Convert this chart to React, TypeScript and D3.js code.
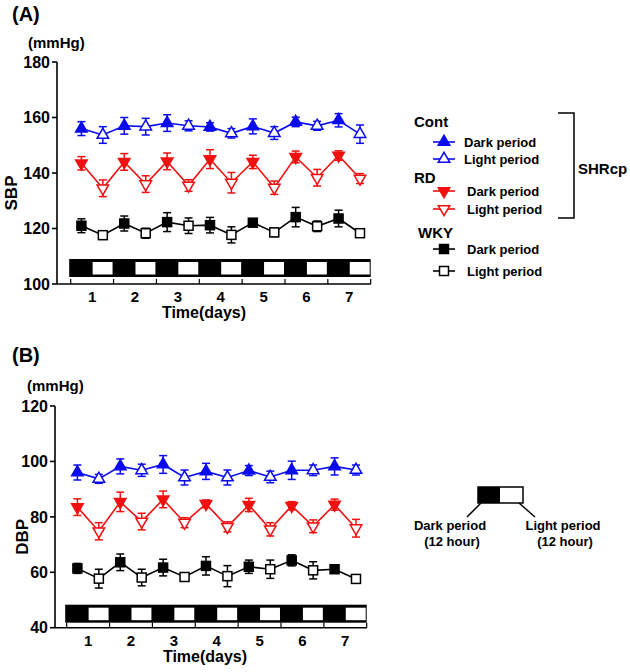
import React from 'react';
import * as d3 from 'd3';

// ---------- data ----------
const days = [1, 2, 3, 4, 5, 6, 7];
const sbpTicks = [100, 120, 140, 160, 180];
const dbpTicks = [40, 60, 80, 100, 120];

// SBP (A)
const sbpContDark = [156, 157, 158, 156.6, 156.8, 158.4, 159];
const sbpContDarkSE = [2.5, 3, 3, 1.5, 2.7, 1.7, 2.4];
const sbpContLight = [153.7, 156.7, 157, 154.3, 154.4, 157, 154];
const sbpContLightSE = [3, 3, 1.8, 1.7, 2.3, 1.6, 3.3];
const sbpRdDark = [143.5, 144, 144.2, 145, 144, 145.8, 146.3];
const sbpRdDarkSE = [2.4, 3, 3, 3.4, 2.4, 2.1, 1.7];
const sbpRdLight = [134.5, 136, 135.5, 136.5, 134.7, 138.3, 138];
const sbpRdLightSE = [3, 3, 2.1, 3.7, 2.4, 3, 1.8];
const sbpWkyDark = [121, 121.8, 122.3, 121.2, 122.1, 124.1, 123.6];
const sbpWkyDarkSE = [2.5, 2.7, 3.4, 2.8, 0.8, 3.5, 3];
const sbpWkyLight = [117.6, 118.3, 121, 117.7, 118.6, 120.8, 118.3];
const sbpWkyLightSE = [1.5, 1.8, 2.8, 2.9, 1.5, 1.9, 0.8];

// DBP (B)
const dbpContDark = [96, 98.2, 98.9, 96.4, 96.7, 96.8, 98.2];
const dbpContDarkSE = [2.7, 2.7, 3.2, 2.9, 1.8, 3.3, 3.1];
const dbpContLight = [93.7, 96.8, 94.2, 94.2, 94.4, 96.8, 96.9];
const dbpContLightSE = [1.6, 2.2, 2.7, 2.7, 2.1, 1.9, 1.8];
const dbpRdDark = [83.5, 85.4, 86.3, 84.7, 84.3, 84, 84.4];
const dbpRdDarkSE = [3, 3.5, 3, 1.4, 2.4, 1.5, 2];
const dbpRdLight = [74.8, 78.3, 77.9, 76.4, 75.5, 76.6, 75.9];
const dbpRdLightSE = [3.1, 3, 1.8, 1.8, 2.4, 2.3, 3.2];
const dbpWkyDark = [61.4, 63.6, 61.7, 62.3, 62, 64.3, 61.1];
const dbpWkyDarkSE = [1.8, 3, 3, 3.3, 2.4, 2, 1];
const dbpWkyLight = [57.7, 58.1, 58.3, 58.6, 61.1, 60.7, 57.6];
const dbpWkyLightSE = [3.4, 3, 1.3, 3.8, 3.3, 3.1, 0.8];

const groupNames = ['Cont', 'RD', 'WKY'];
const groupColors = ['#0a0af0', '#f01010', '#000000'];
const groupShapes = ['up', 'down', 'square'];
const periodNames = ['Dark period', 'Light period'];

const FONT = "'Liberation Sans', Arial, Helvetica, sans-serif";

type Series = { dark: number[]; darkSE: number[]; light: number[]; lightSE: number[] };

const sbpSeries: Series[] = [
  { dark: sbpContDark, darkSE: sbpContDarkSE, light: sbpContLight, lightSE: sbpContLightSE },
  { dark: sbpRdDark, darkSE: sbpRdDarkSE, light: sbpRdLight, lightSE: sbpRdLightSE },
  { dark: sbpWkyDark, darkSE: sbpWkyDarkSE, light: sbpWkyLight, lightSE: sbpWkyLightSE },
];
const dbpSeries: Series[] = [
  { dark: dbpContDark, darkSE: dbpContDarkSE, light: dbpContLight, lightSE: dbpContLightSE },
  { dark: dbpRdDark, darkSE: dbpRdDarkSE, light: dbpRdLight, lightSE: dbpRdLightSE },
  { dark: dbpWkyDark, darkSE: dbpWkyDarkSE, light: dbpWkyLight, lightSE: dbpWkyLightSE },
];

function Marker({ shape, x, y, color, filled }: { shape: string; x: number; y: number; color: string; filled: boolean }) {
  const fill = filled ? color : '#ffffff';
  if (shape === 'square') {
    return <rect x={x - 4.5} y={y - 4.5} width={9} height={9} fill={fill} stroke={color} strokeWidth={1.5} />;
  }
  const tri = d3.symbol().type(d3.symbolTriangle).size(58)() as string;
  return (
    <path
      d={tri}
      transform={`translate(${x},${y})${shape === 'down' ? ' rotate(180)' : ''}`}
      fill={fill}
      stroke={color}
      strokeWidth={1.5}
      strokeLinejoin="miter"
    />
  );
}

type PanelProps = {
  series: Series[];
  yDomain: [number, number];
  yTop: number;
  yBottom: number;
  axisX: number;
  xLeft: number;
  xRight: number;
  ticks: number[];
  yLabel: string;
  yLabelX: number;
  panelLabel: string;
  panelLabelY: number;
  unitY: number;
  unitX: number;
  timeLabelX: number;
  barGap: number;
};

function Panel(p: PanelProps) {
  const y = d3.scaleLinear().domain(p.yDomain).range([p.yBottom, p.yTop]);
  const x = d3.scaleLinear().domain([0, 7]).range([p.xLeft, p.xRight]);
  const xTicks = d3.range(0, 8);
  const barH = 18;
  const barBottom = p.yBottom - p.barGap;
  const barTop = barBottom - barH;
  const line = d3
    .line<{ t: number; v: number }>()
    .x((d) => x(d.t))
    .y((d) => y(d.v));

  return (
    <g>
      <text x={12} y={p.panelLabelY} fontFamily={FONT} fontWeight="bold" fontSize={20}>
        {p.panelLabel}
      </text>
      <text x={p.unitX} y={p.unitY} fontFamily={FONT} fontWeight="bold" fontSize={15}>
        (mmHg)
      </text>
      {/* y axis */}
      <line x1={p.axisX} x2={p.axisX} y1={p.yTop} y2={p.yBottom} stroke="#000" strokeWidth={1.6} />
      {p.ticks.map((t) => (
        <g key={t}>
          <line x1={p.axisX - 5} x2={p.axisX} y1={y(t)} y2={y(t)} stroke="#000" strokeWidth={1.6} />
          <text
            x={p.axisX - 7}
            y={y(t)}
            dy="0.36em"
            textAnchor="end"
            fontFamily={FONT}
            fontWeight="bold"
            fontSize={16}
          >
            {t}
          </text>
        </g>
      ))}
      <text
        transform={`translate(${p.yLabelX},${(p.yTop + p.yBottom) / 2 + 20}) rotate(-90)`}
        textAnchor="middle"
        fontFamily={FONT}
        fontWeight="bold"
        fontSize={17}
      >
        {p.yLabel}
      </text>
      {/* x axis */}
      <line x1={p.axisX} x2={x(7)} y1={p.yBottom} y2={p.yBottom} stroke="#000" strokeWidth={1.6} />
      {xTicks.map((t) => (
        <line key={t} x1={x(t)} x2={x(t)} y1={p.yBottom} y2={p.yBottom - 5} stroke="#000" strokeWidth={1.2} />
      ))}
      {days.map((d) => (
        <text
          key={d}
          x={x(d - 0.5)}
          y={p.yBottom + 18}
          textAnchor="middle"
          fontFamily={FONT}
          fontWeight="bold"
          fontSize={15}
        >
          {d}
        </text>
      ))}
      <text
        x={p.timeLabelX}
        y={p.yBottom + 34}
        textAnchor="middle"
        fontFamily={FONT}
        fontWeight="bold"
        fontSize={16}
      >
        Time(days)
      </text>
      {/* light/dark bar */}
      <rect x={x(0) - 1.5} y={barTop} width={x(7) - x(0) + 1.5} height={barH} fill="#000" />
      {days.map((d) => (
        <rect
          key={d}
          x={x(d - 0.5) + 0.5}
          y={barTop + 3}
          width={x(d) - x(d - 0.5) - 1.5}
          height={barH - 5.5}
          fill="#fff"
        />
      ))}
      {/* series */}
      {p.series.map((s, gi) => {
        const color = groupColors[gi];
        const pts: { t: number; v: number; se: number; filled: boolean }[] = [];
        days.forEach((d, i) => {
          pts.push({ t: d - 0.75, v: s.dark[i], se: s.darkSE[i], filled: true });
          pts.push({ t: d - 0.25, v: s.light[i], se: s.lightSE[i], filled: false });
        });
        return (
          <g key={gi}>
            <path d={line(pts) as string} fill="none" stroke={color} strokeWidth={1.6} />
            {pts.map((pt, i) => (
              <g key={i} stroke={color} strokeWidth={1.5}>
                <line x1={x(pt.t)} x2={x(pt.t)} y1={y(pt.v - pt.se)} y2={y(pt.v + pt.se)} />
                <line x1={x(pt.t) - 4} x2={x(pt.t) + 4} y1={y(pt.v + pt.se)} y2={y(pt.v + pt.se)} />
                <line x1={x(pt.t) - 4} x2={x(pt.t) + 4} y1={y(pt.v - pt.se)} y2={y(pt.v - pt.se)} />
              </g>
            ))}
            {pts.map((pt, i) => (
              <Marker key={i} shape={groupShapes[gi]} x={x(pt.t)} y={y(pt.v)} color={color} filled={pt.filled} />
            ))}
          </g>
        );
      })}
    </g>
  );
}

function Legend() {
  const headY = [127, 183, 238];
  const rowY = [
    [142, 159],
    [191, 209],
    [249, 271],
  ];
  const textX = [464, 467, 467];
  return (
    <g fontFamily={FONT} fontWeight="bold">
      {groupNames.map((g, gi) => (
        <g key={g}>
          <text x={gi === 2 ? 418 : 414} y={headY[gi]} fontSize={15}>
            {g}
          </text>
          {periodNames.map((pn, pi) => (
            <g key={pn}>
              <line x1={433} x2={455} y1={rowY[gi][pi]} y2={rowY[gi][pi]} stroke={groupColors[gi]} strokeWidth={1.6} />
              <Marker shape={groupShapes[gi]} x={444} y={rowY[gi][pi]} color={groupColors[gi]} filled={pi === 0} />
              <text x={textX[gi]} y={rowY[gi][pi]} dy="0.36em" fontSize={13}>
                {pn}
              </text>
            </g>
          ))}
        </g>
      ))}
      <path d="M558,113 H574 V218 H558" fill="none" stroke="#000" strokeWidth={1.5} />
      <text x={578} y={174} fontSize={15}>
        SHRcp
      </text>
      {/* light/dark key */}
      <rect x={478} y={487} width={45} height={16} fill="#fff" stroke="#000" strokeWidth={1.5} />
      <rect x={478} y={487} width={22} height={16} fill="#000" />
      <line x1={481} y1={503} x2={467} y2={517} stroke="#000" strokeWidth={1.5} />
      <line x1={519} y1={503} x2={535} y2={517} stroke="#000" strokeWidth={1.5} />
      <text x={450} y={530} textAnchor="middle" fontSize={13}>
        Dark period
      </text>
      <text x={452} y={546} textAnchor="middle" fontSize={13}>
        (12 hour)
      </text>
      <text x={563} y={530} textAnchor="middle" fontSize={13}>
        Light period
      </text>
      <text x={565} y={546} textAnchor="middle" fontSize={13}>
        (12 hour)
      </text>
    </g>
  );
}

export default function App() {
  return (
    <svg
      width={630}
      height={672}
      viewBox="0 0 630 672"
      style={{ position: 'absolute', left: 0, top: 0, background: '#fff' }}
    >
      <rect width={630} height={672} fill="#fff" />
      <Panel
        series={sbpSeries}
        yDomain={[100, 180]}
        yTop={62}
        yBottom={284}
        axisX={57}
        xLeft={70.7}
        xRight={370.7}
        ticks={sbpTicks}
        yLabel="SBP"
        yLabelX={17}
        panelLabel="(A)"
        panelLabelY={21}
        unitY={48}
        unitX={28}
        timeLabelX={204}
        barGap={7}
      />
      <Panel
        series={dbpSeries}
        yDomain={[40, 120]}
        yTop={406}
        yBottom={627.7}
        axisX={55}
        xLeft={66.7}
        xRight={366.7}
        ticks={dbpTicks}
        yLabel="DBP"
        yLabelX={28}
        panelLabel="(B)"
        panelLabelY={362}
        unitY={391}
        unitX={27}
        timeLabelX={205}
        barGap={5}
      />
      <Legend />
    </svg>
  );
}
